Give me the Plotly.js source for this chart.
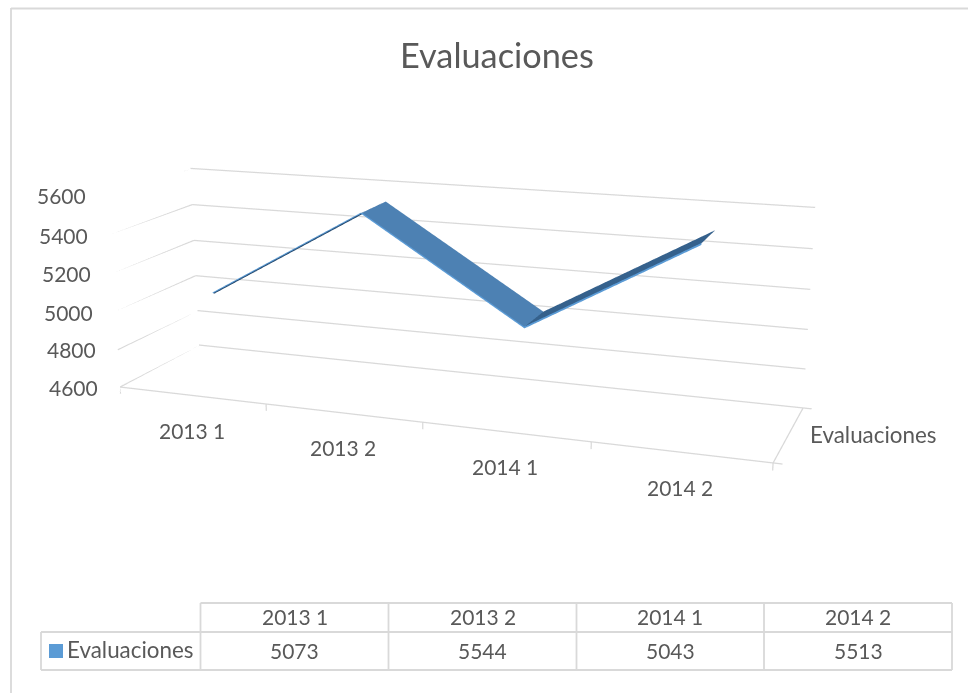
<!DOCTYPE html>
<html><head><meta charset="utf-8">
<script src="https://cdn.plot.ly/plotly-3.0.1.min.js"></script>
<style>html,body{margin:0;padding:0;background:#fff;overflow:hidden;width:968px;height:693px}
#stage{position:absolute;left:0;top:-322px;width:968px;height:1376px}</style>
</head><body><div id="stage"></div>
<script>
const categories = ["2013 1","2013 2","2014 1","2014 2"];
const values = [5073,5544,5043,5513];
const seriesName = "Evaluaciones";
const valueTicks = [4600,4800,5000,5200,5400,5600];
const categoryEdges = [-0.5,0.5,1.5,2.5,3.5];
const segmentColors = ["#24486c","#4d81b3","#35618c"];
const frontFaceColors = ["#24486c","#5b9bd5","#5b9bd5"];
const edgeColor = "#5b9bd5", textColor = "#595959", gridColor = "#d9d9d9";
const fontName = "Lato, Carlito, sans-serif";
const depthFront = 0.33, depthBack = 0.69, ribbonThickness = 8;
const tickDown = 36, tickRight = 0.05;

const W=968,H=1376,TOP=322;
const px=x=>x/W, py=y=>1-(y+TOP)/H;

const idx=categories.map((_,i)=>i);
// ribbon mesh: top surface + front face
const mx=[],my=[],mz=[],fi=[],fj=[],fk=[],fc=[];
idx.forEach(i=>{mx.push(i,i,i);my.push(depthFront,depthBack,depthFront);mz.push(values[i],values[i],values[i]-ribbonThickness);});
for(let s=0;s<idx.length-1;s++){const a=3*s,b=a+3;
  fi.push(a,a+1);fj.push(a+1,b+1);fk.push(b,b);fc.push(segmentColors[s],segmentColors[s]);
  fi.push(a,a+2);fj.push(a+2,b+2);fk.push(b,b);fc.push(frontFaceColors[s],frontFaceColors[s]);}

// grid, floor edges and tick marks, all in axis coordinates
const xMin=categoryEdges[0],xMax=categoryEdges[categoryEdges.length-1],zMin=valueTicks[0];
const data=[];
const seg=(x0,y0,z0,x1,y1,z1)=>data.push({type:'scatter3d',mode:'lines',x:[x0,x1],y:[y0,y1],z:[z0,z1],
  line:{color:gridColor,width:2.5},hoverinfo:'skip',showlegend:false});
valueTicks.forEach(v=>{seg(xMin,0,v,xMin,1,v);seg(xMin,1,v,xMax,1,v);});
seg(xMin,0,zMin,xMax,0,zMin);
seg(xMax,0,zMin,xMax,1,zMin);
categoryEdges.forEach(e=>seg(e,0,zMin,e,0,zMin-tickDown));
seg(xMax,0,zMin,xMax+tickRight,0,zMin);
seg(xMax,1,zMin,xMax+tickRight,1,zMin);

data.push(
 {type:'mesh3d',x:mx,y:my,z:mz,i:fi,j:fj,k:fk,facecolor:fc,flatshading:true,
  lighting:{ambient:1,diffuse:0,specular:0,roughness:1,fresnel:0},hoverinfo:'skip',showscale:false},
 {type:'scatter3d',mode:'lines',x:idx,y:idx.map(()=>depthFront-0.012),z:values,
  line:{color:edgeColor,width:2},hoverinfo:'skip',showlegend:false}
);

const anns3d=[];
valueTicks.forEach(v=>anns3d.push({x:xMin,y:0,z:v,text:String(v),showarrow:false,xanchor:'right',yanchor:'middle',xshift:-20,
  font:{family:fontName,size:21,color:textColor}}));
categories.forEach((c,i)=>anns3d.push({x:i,y:0,z:zMin,text:c,showarrow:false,xanchor:'center',yanchor:'middle',yshift:-35,
  font:{family:fontName,size:21,color:textColor}}));
anns3d.push({x:xMax,y:0.5,z:zMin,text:seriesName,showarrow:false,xanchor:'left',yanchor:'middle',xshift:19,
  font:{family:fontName,size:22.4,color:textColor}});

const axisBase={showbackground:false,showspikes:false,zeroline:false,showticklabels:false,title:{text:''},autorange:false,showgrid:false,showline:false,ticks:''};
const scene={
 domain:{x:[0,856/968],y:[0,1]},
 aspectmode:'manual',aspectratio:{x:1.64481,y:0.408,z:0.50336},
 camera:{eye:{x:1.33335,y:-3.621,z:0.99748},center:{x:-0.05065,y:-0.0635,z:-0.13912},up:{x:-0.0966,y:0.2688,z:0.9584},projection:{type:'perspective'}},
 bgcolor:'#fff',
 xaxis:Object.assign({},axisBase,{range:[xMin,xMax+tickRight]}),
 yaxis:Object.assign({},axisBase,{range:[0,1]}),
 zaxis:Object.assign({},axisBase,{range:[zMin-40,5600]}),
 annotations:anns3d
};

// table geometry
const colX=[200.5,388.5,576.5,764,952],rowY=[603,632,670],rowHeadX=41;
const shapes=[];
const ln=(x0,y0,x1,y1,c,w)=>shapes.push({type:'line',xref:'paper',yref:'paper',x0:px(x0),y0:py(y0),x1:px(x1),y1:py(y1),line:{color:c,width:w}});
// chart frame
ln(11,8.5,968,8.5,gridColor,1.8);ln(11,8,11,693,gridColor,1.8);
// table
ln(colX[0],rowY[0],colX[4],rowY[0],gridColor,1.8);
ln(rowHeadX,rowY[1],colX[4],rowY[1],gridColor,1.8);
ln(rowHeadX,rowY[2],colX[4],rowY[2],gridColor,1.8);
ln(rowHeadX,rowY[1],rowHeadX,rowY[2],gridColor,1.8);
colX.forEach(x=>ln(x,rowY[0],x,rowY[2],gridColor,1.8));
shapes.push({type:'rect',xref:'paper',yref:'paper',x0:px(49),x1:px(63),y0:py(644),y1:py(658),fillcolor:edgeColor,line:{width:0}});

const ann=[];
const txt=(t,x,y,a,s)=>ann.push({xref:'paper',yref:'paper',x:px(x),y:py(y),text:t,showarrow:false,xanchor:a,yanchor:'middle',font:{family:fontName,size:s,color:textColor}});
txt("Evaluaciones",496.5,54,'center',34.3);
categories.forEach((c,i)=>{const m=(colX[i]+colX[i+1])/2;txt(c,m,616.5,'center',21);txt(String(values[i]),m,650,'center',21);});
txt(seriesName,65,649.5,'left',22.4);

Plotly.newPlot('stage',data,{width:W,height:H,margin:{l:0,r:0,t:0,b:0},paper_bgcolor:'#fff',showlegend:false,hovermode:false,scene,shapes,annotations:ann},{displayModeBar:false});
</script></body></html>
